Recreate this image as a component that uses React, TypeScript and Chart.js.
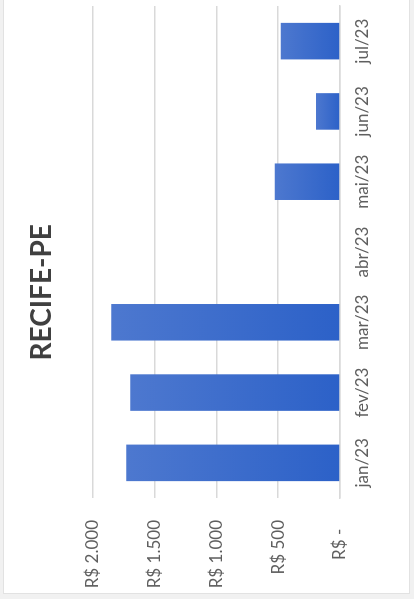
import React, { useEffect, useRef } from "react";
import { Chart, registerables } from "chart.js";

Chart.register(...registerables);

const chartTitle = "RECIFE-PE";
const categories = ["jan/23", "fev/23", "mar/23", "abr/23", "mai/23", "jun/23", "jul/23"];
const values = [1727, 1695, 1849, 0, 527, 195, 479];
const yTickValues = [0, 500, 1000, 1500, 2000];
const yTickLabels = ["R$ -  ", "R$ 500", "R$ 1.000", "R$ 1.500", "R$ 2.000"];

const W = 599; // unrotated chart width
const H = 414; // unrotated chart height

export default function App() {
  const ref = useRef<HTMLCanvasElement | null>(null);

  useEffect(() => {
    if (!ref.current) return;
    const chart = new Chart(ref.current, {
      type: "bar",
      data: {
        labels: categories,
        datasets: [
          {
            data: values,
            backgroundColor: (ctx: any) => {
              const c = ctx.chart;
              const ys = c.scales && c.scales.y;
              if (!c.chartArea || !ys || typeof ctx.raw !== "number") return "#3a6acc";
              const top = ys.getPixelForValue(ctx.raw);
              const bottom = ys.getPixelForValue(0);
              if (!isFinite(top) || !isFinite(bottom) || top === bottom) return "#3a6acc";
              const g = c.ctx.createLinearGradient(0, top, 0, bottom);
              g.addColorStop(0, "#4d78cf");
              g.addColorStop(1, "#2c61c8");
              return g;
            },
            borderWidth: 0,
            barPercentage: 0.52,
            categoryPercentage: 1,
          },
        ],
      },
      options: {
        responsive: false,
        devicePixelRatio: 1,
        animation: false,
        layout: { padding: { left: 0, right: 6, top: 0, bottom: 0 } },
        plugins: {
          legend: { display: false },
          tooltip: { enabled: false },
          title: {
            display: true,
            text: "   " + chartTitle,
            color: "#404040",
            font: { family: "Lato", size: 28, weight: "bold" },
            padding: { top: 25, bottom: 34 },
          },
        },
        scales: {
          x: {
            grid: { display: false, drawTicks: false },
            border: { display: true, color: "#d9d9d9", width: 1.5 },
            ticks: {
              color: "#5f5f5f",
              font: { family: "Lato", size: 17 },
              padding: 12,
              maxRotation: 0,
              autoSkip: false,
            },
            afterFit: (s: any) => {
              s.height = 74;
            },
          },
          y: {
            min: 0,
            max: 2000,
            grid: { color: "#d9d9d9", lineWidth: 1.5, drawTicks: false },
            border: { display: false },
            afterBuildTicks: (s: any) => {
              s.ticks = yTickValues.map((v) => ({ value: v }));
            },
            ticks: {
              color: "#5f5f5f",
              font: { family: "Lato", size: 17 },
              padding: 22,
              callback: (v: any) => {
                const i = yTickValues.indexOf(Number(v));
                return i >= 0 ? yTickLabels[i] : "";
              },
            },
            afterFit: (s: any) => {
              s.width = 101;
            },
          },
        },
      } as any,
    });
    return () => chart.destroy();
  }, []);

  return (
    <div
      style={{
        position: "fixed",
        left: 0,
        top: 0,
        width: 414,
        height: 599,
        background: "#f1f1f1",
        overflow: "hidden",
      }}
    >
      <div
        style={{
          position: "absolute",
          left: 3,
          top: -2,
          width: 407,
          height: 596,
          background: "#ffffff",
          border: "1px solid #e2e2e2",
          boxSizing: "border-box",
        }}
      />
      <div
        style={{
          position: "absolute",
          left: 0,
          top: 0,
          width: W,
          height: H,
          transformOrigin: "0 0",
          transform: `translate(0px, ${W}px) rotate(-90deg)`,
        }}
      >
        <canvas ref={ref} width={W} height={H} style={{ display: "block" }} />
      </div>
    </div>
  );
}
